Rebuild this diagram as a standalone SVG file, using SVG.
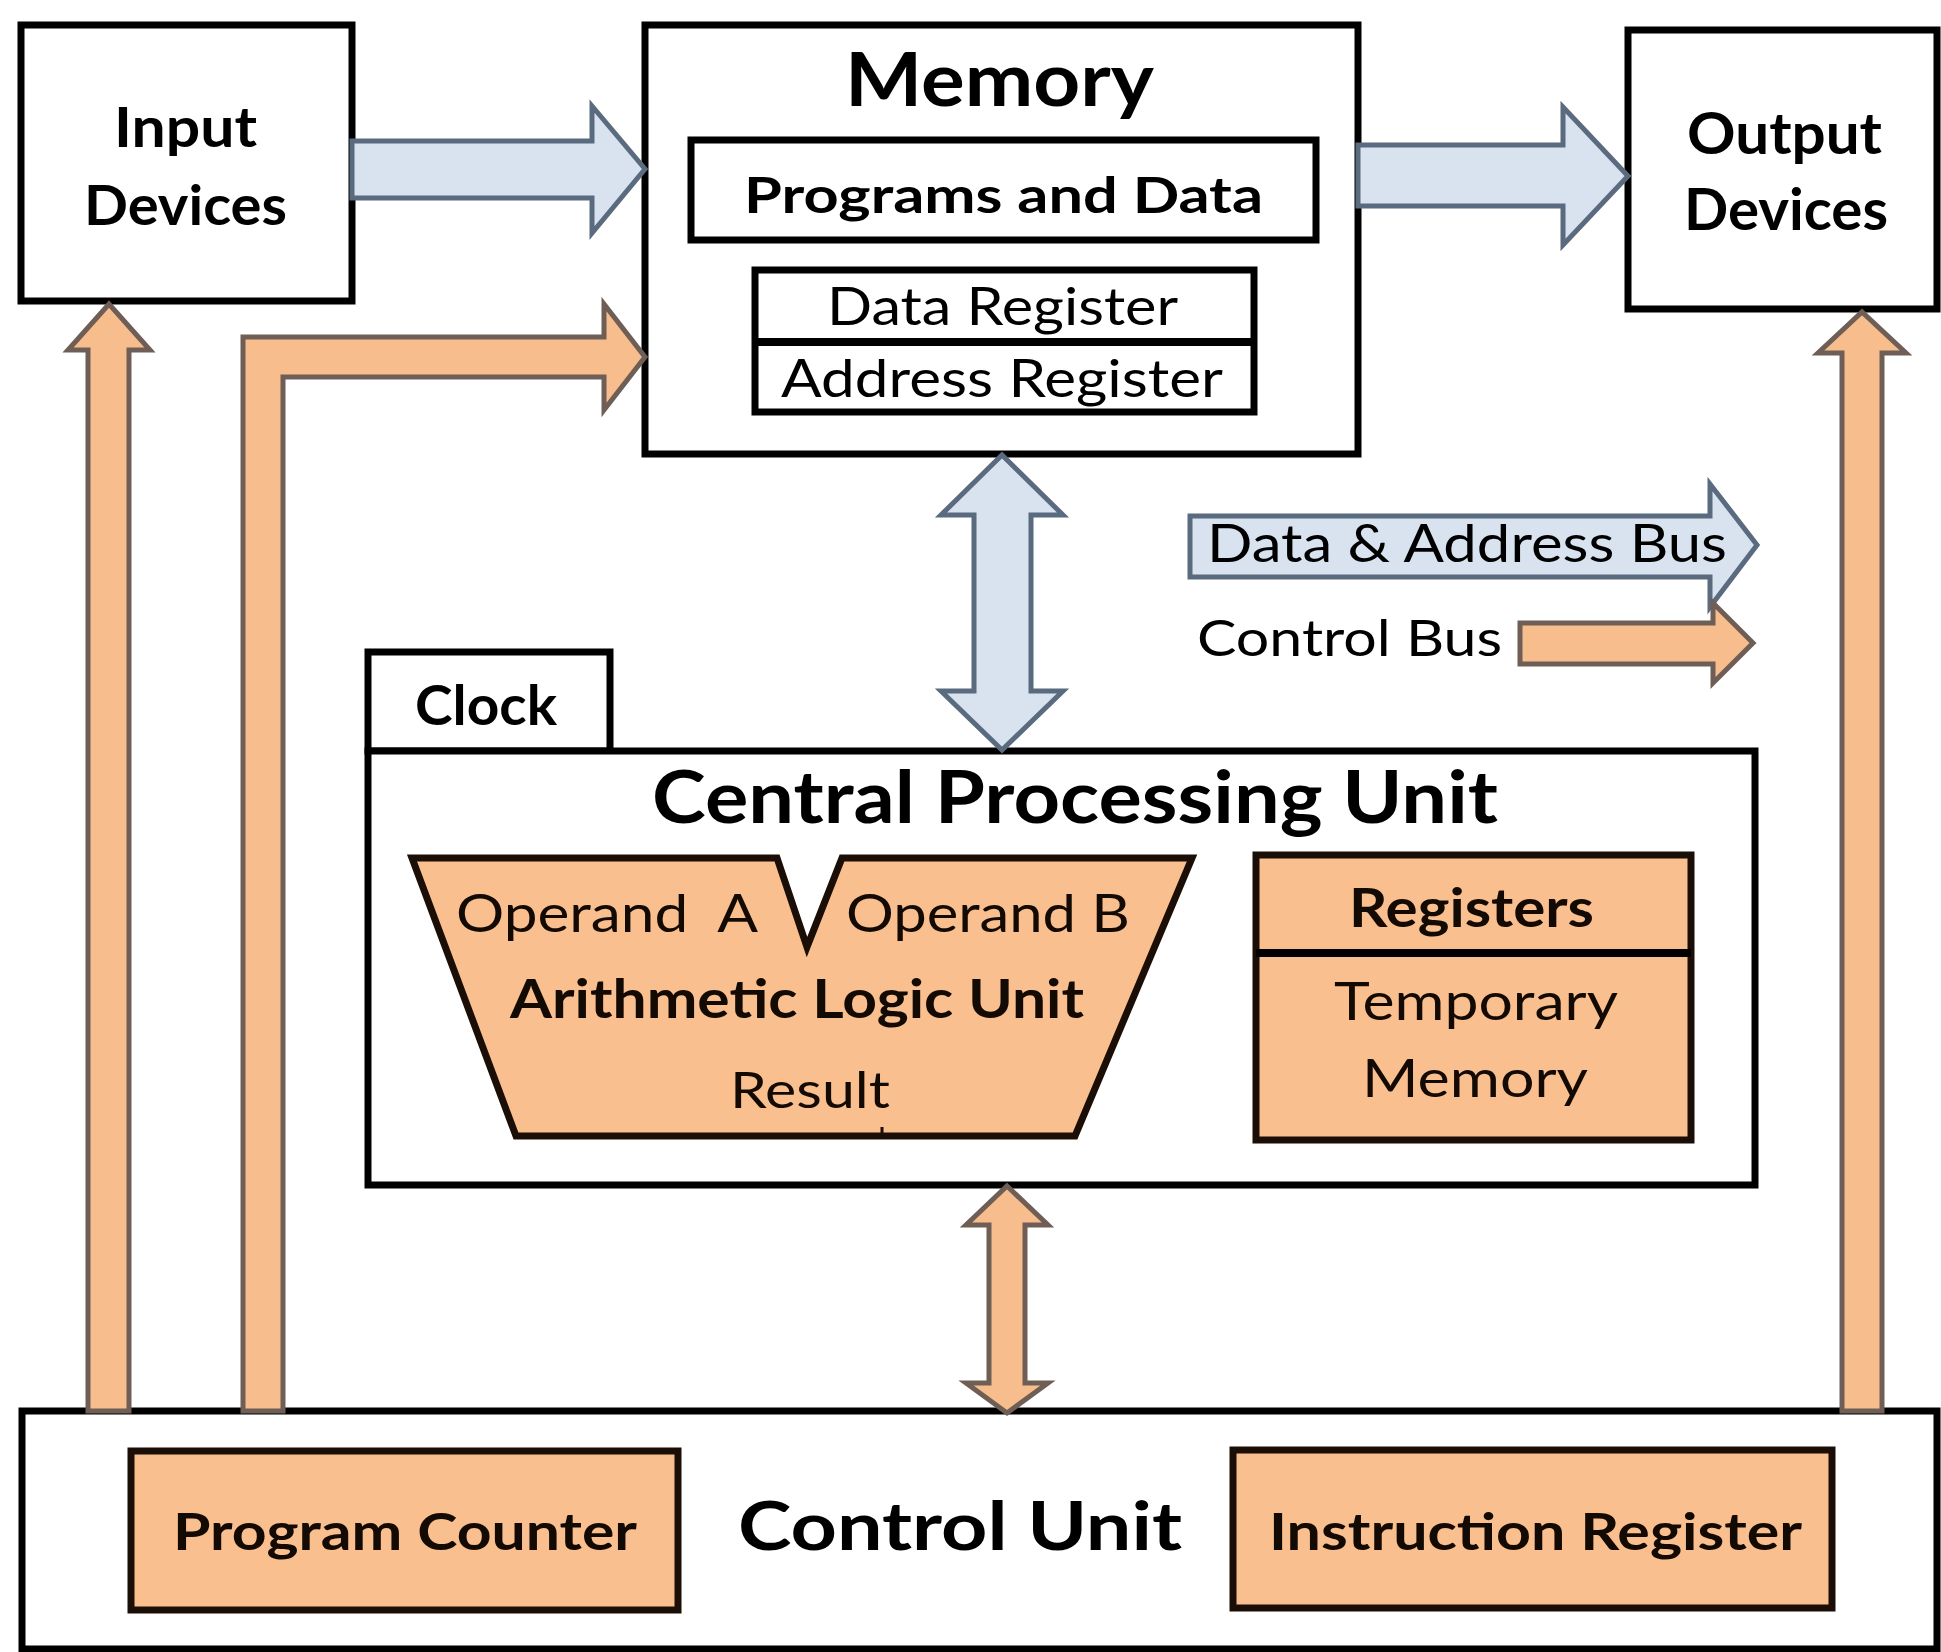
<svg xmlns="http://www.w3.org/2000/svg" width="1941" height="1652" viewBox="0 0 1941 1652">
<style>
  .box { fill:#ffffff; stroke:#000000; stroke-width:7; }
  .obox { fill:#F9BF8F; stroke:#1b0e06; stroke-width:7; }
  .div { stroke:#000000; stroke-width:8; }
  .barrow { fill:#D9E3F0; stroke:#5B6B7F; stroke-width:5; stroke-linejoin:miter; }
  .oarrow { fill:#F7BD8C; stroke:#6E5E55; stroke-width:5; stroke-linejoin:miter; }
  text { font-family:Lato, "Open Sans", "Liberation Sans", sans-serif; fill:#000; }
  .b { font-weight:bold; }
  .dk { fill:#140a04; }
</style>
<rect x="0" y="0" width="1941" height="1652" fill="#ffffff"/>

<g id="input-devices">
  <rect class="box" x="21" y="25" width="331" height="276"/>
  <text class="b" x="114" y="147" font-size="56" textLength="143" lengthAdjust="spacingAndGlyphs">Input</text>
  <text class="b" x="84" y="225" font-size="56" textLength="203" lengthAdjust="spacingAndGlyphs">Devices</text>
</g>

<g id="memory">
  <rect class="box" x="645" y="25" width="713" height="429"/>
  <text class="b" x="845" y="106" font-size="74" textLength="309" lengthAdjust="spacingAndGlyphs">Memory</text>
  <g id="programs-and-data">
    <rect class="box" x="691" y="140" width="625" height="100"/>
    <text class="b" x="744" y="213" font-size="50" textLength="519" lengthAdjust="spacingAndGlyphs">Programs and Data</text>
  </g>
  <g id="registers-mem">
    <rect class="box" x="755" y="270" width="499" height="142" stroke-width="6"/>
    <line class="div" x1="755" y1="342" x2="1254" y2="342"/>
    <text x="827" y="325" font-size="52" textLength="351" lengthAdjust="spacingAndGlyphs">Data Register</text>
    <text x="781" y="397" font-size="52" textLength="442" lengthAdjust="spacingAndGlyphs">Address Register</text>
  </g>
</g>

<g id="output-devices">
  <rect class="box" x="1628" y="30" width="309" height="279"/>
  <text class="b" x="1687" y="154" font-size="57" textLength="195" lengthAdjust="spacingAndGlyphs">Output</text>
  <text class="b" x="1684" y="230" font-size="57" textLength="204" lengthAdjust="spacingAndGlyphs">Devices</text>
</g>

<g id="clock">
  <rect class="box" x="368" y="652" width="242" height="99"/>
  <text class="b" x="415" y="725" font-size="56" textLength="142" lengthAdjust="spacingAndGlyphs">Clock</text>
</g>

<g id="cpu">
  <rect class="box" x="368" y="751" width="1387" height="434"/>
  <text class="b" x="652" y="823" font-size="72" textLength="846" lengthAdjust="spacingAndGlyphs">Central Processing Unit</text>
</g>

<g id="alu">
  <polygon class="obox" points="412,858 777,858 807,947 842,858 1192,858 1075,1136 516,1136"/>
  <line x1="882" y1="1127" x2="882" y2="1136" stroke="#1b0e06" stroke-width="3"/>
  <text class="dk" x="456" y="932" font-size="52" textLength="302" lengthAdjust="spacingAndGlyphs" style="white-space:pre">Operand  A</text>
  <text class="dk" x="846" y="932" font-size="52" textLength="284" lengthAdjust="spacingAndGlyphs">Operand B</text>
  <text class="b dk" x="510" y="1018" font-size="53" textLength="574" lengthAdjust="spacingAndGlyphs">Arithmetic Logic Unit</text>
  <text class="dk" x="730" y="1108" font-size="50" textLength="160" lengthAdjust="spacingAndGlyphs">Result</text>
</g>

<g id="registers">
  <rect class="obox" x="1256" y="855" width="435" height="285"/>
  <line class="div" x1="1256" y1="953" x2="1691" y2="953" stroke="#1b0e06"/>
  <text class="b dk" x="1349" y="927" font-size="54" textLength="245" lengthAdjust="spacingAndGlyphs">Registers</text>
  <text class="dk" x="1334" y="1020" font-size="52" textLength="284" lengthAdjust="spacingAndGlyphs">Temporary</text>
  <text class="dk" x="1362" y="1097" font-size="52" textLength="226" lengthAdjust="spacingAndGlyphs">Memory</text>
</g>

<g id="control-unit">
  <rect class="box" x="22" y="1411" width="1915" height="238" stroke-width="6"/>
  <text class="b" x="738" y="1550" font-size="66" textLength="444" lengthAdjust="spacingAndGlyphs">Control Unit</text>
</g>

<g id="program-counter">
  <rect class="obox" x="131" y="1451" width="547" height="159"/>
  <text class="b dk" x="173" y="1550" font-size="52" textLength="464" lengthAdjust="spacingAndGlyphs">Program Counter</text>
</g>

<g id="instruction-register">
  <rect class="obox" x="1233" y="1450" width="599" height="158"/>
  <text class="b dk" x="1269" y="1550" font-size="52" textLength="533" lengthAdjust="spacingAndGlyphs">Instruction Register</text>
</g>

<g id="connectors">
  <polygon class="barrow" points="352,141 592,141 592,106 645,169 592,233 592,198 352,198"/>
  <polygon class="barrow" points="1358,145 1563,145 1563,107 1628,176 1563,245 1563,206 1358,206"/>
  <polygon class="barrow" points="1002,455 1063,515 1031,515 1031,691 1063,691 1002,750 941,691 974,691 974,515 941,515"/>
  <polygon class="oarrow" points="243,1411 243,337 604,337 604,304 645,357 604,410 604,377 283,377 283,1411"/>
  <polygon class="oarrow" points="88,1411 88,350 68,350 109,304 150,350 129,350 129,1411"/>
  <polygon class="oarrow" points="1842,1411 1842,353 1818,353 1862,312 1906,353 1882,353 1882,1411"/>
  <polygon class="oarrow" points="1007,1186 1048,1225 1025,1225 1025,1383 1048,1383 1007,1413 966,1383 989,1383 989,1225 966,1225"/>
</g>

<g id="legend">
  <polygon class="barrow" points="1190,516 1710,516 1710,484 1757,545 1710,607 1710,577 1190,577"/>
  <text x="1207" y="562" font-size="52" textLength="520" lengthAdjust="spacingAndGlyphs">Data &amp; Address Bus</text>
  <polygon class="oarrow" points="1520,623 1713,623 1713,603 1753,643 1713,683 1713,664 1520,664"/>
  <text x="1197" y="656" font-size="50" textLength="305" lengthAdjust="spacingAndGlyphs">Control Bus</text>
</g>
</svg>
